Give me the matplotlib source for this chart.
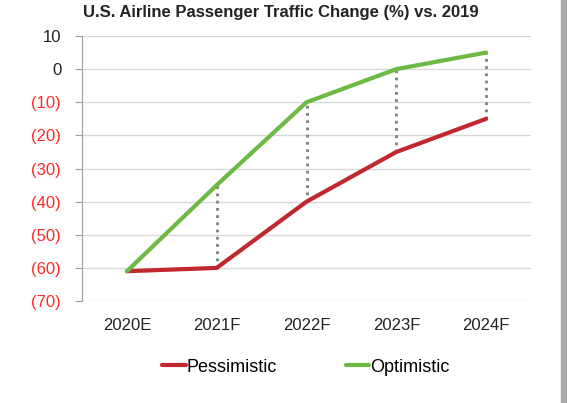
import matplotlib.pyplot as plt
import matplotlib.patches as mpatches
import numpy as np

plt.rcParams['font.family'] = ['Liberation Sans', 'DejaVu Sans']

# Datos
anios = ["2020E", "2021F", "2022F", "2023F", "2024F"]
pesimista = [-61, -60, -40, -25, -15]
optimista = [-61, -35, -10, 0, 5]
ticks_y = [10, 0, -10, -20, -30, -40, -50, -60, -70]


def etiqueta(v):
    return "(%d)" % abs(v) if v < 0 else "%d" % v


fig = plt.figure(figsize=(5.67, 4.03), dpi=100)
ax = fig.add_axes([0.1446, 0.253, 0.792, 0.6577])

x = np.arange(len(anios))
rojo = '#c0282d'
verde = '#6cb944'

# Lineas punteadas entre escenarios
ax.vlines(x[1:], pesimista[1:], optimista[1:], colors='#7f7f7f',
          linestyles=(0, (1, 1.6)), linewidth=2, zorder=2)

ax.plot(x, pesimista, color=rojo, linewidth=3, label='Pessimistic', zorder=3,
        solid_capstyle='round')
ax.plot(x, optimista, color=verde, linewidth=3, label='Optimistic', zorder=4,
        solid_capstyle='round')

ax.set_xlim(-0.5, len(anios) - 0.5)
ax.set_ylim(-70, 10)
ax.set_xticks(x)
ax.set_xticklabels(anios, fontsize=12, color='#222222')
ax.set_yticks(ticks_y)
ax.set_yticklabels([etiqueta(v) for v in ticks_y], fontsize=12)
for lbl, v in zip(ax.get_yticklabels(), ticks_y):
    lbl.set_color('#ff2a2a' if v < 0 else '#222222')

ax.tick_params(axis='x', length=0, pad=12)
ax.tick_params(axis='y', length=5, pad=10, color='#a0a0a0')
ax.grid(axis='y', color='#d9d9d9', linewidth=1)
ax.set_axisbelow(True)
for lado in ['top', 'right', 'bottom']:
    ax.spines[lado].set_visible(False)
ax.spines['left'].set_color('#a0a0a0')

fig.text(281 / 567, 1 - 13 / 403, 'U.S. Airline Passenger Traffic Change (%) vs. 2019',
         ha='center', va='center', fontsize=12, fontweight='bold', color='#222222')

fig.legend(loc='center', bbox_to_anchor=(306 / 567, 1 - 367 / 403), ncol=2,
           frameon=False, fontsize=13, handlelength=1.3, handletextpad=0.05,
           columnspacing=3.8)

# Borde gris a la derecha
fig.patches.append(mpatches.Rectangle((561 / 567, 0), 5 / 567, 1,
                                      transform=fig.transFigure,
                                      color='#ababab', zorder=0))

fig.savefig('out.png', dpi=100)
